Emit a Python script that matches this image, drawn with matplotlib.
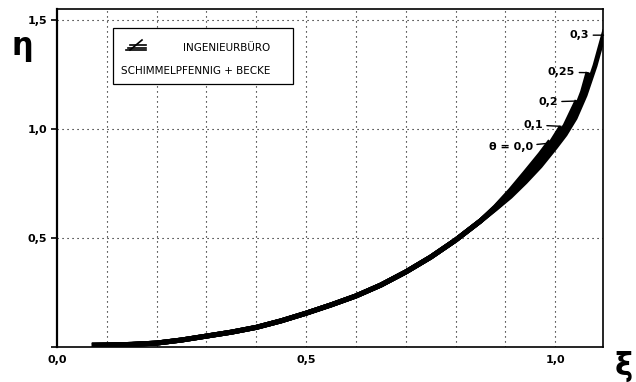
import matplotlib
matplotlib.use('Agg')
import matplotlib.pyplot as plt

# common lower part of all curves (the curves coincide here)
xi_base = [0.07, 0.10, 0.15, 0.20, 0.25, 0.30, 0.35, 0.40, 0.45, 0.50, 0.55,
           0.60, 0.65, 0.70, 0.75, 0.80, 0.85]
eta_base = [0.008, 0.009, 0.012, 0.018, 0.032, 0.05, 0.068, 0.09, 0.12, 0.155,
            0.193, 0.234, 0.284, 0.344, 0.412, 0.49, 0.578]

# upper parts, one per theta value
xi_00 = [0.88, 0.91, 0.94, 0.97, 0.99]
eta_00 = [0.643, 0.718, 0.80, 0.884, 0.945]

xi_01 = [0.88, 0.91, 0.94, 0.97, 0.99, 1.012]
eta_01 = [0.641, 0.712, 0.79, 0.872, 0.93, 1.01]

xi_02 = [0.88, 0.91, 0.94, 0.97, 1.00, 1.02, 1.044]
eta_02 = [0.638, 0.705, 0.782, 0.862, 0.948, 1.015, 1.13]

xi_025 = [0.88, 0.91, 0.94, 0.97, 1.00, 1.02, 1.04, 1.055, 1.066]
eta_025 = [0.635, 0.697, 0.77, 0.846, 0.93, 0.995, 1.08, 1.17, 1.26]

xi_03 = [0.88, 0.91, 0.94, 0.97, 1.00, 1.02, 1.04, 1.06, 1.08, 1.10]
eta_03 = [0.633, 0.69, 0.757, 0.83, 0.915, 0.975, 1.05, 1.155, 1.29, 1.455]

theta_labels = ['\u03b8 = 0,0', '0,1', '0,2', '0,25', '0,3']
upper = [(xi_00, eta_00), (xi_01, eta_01), (xi_02, eta_02),
         (xi_025, eta_025), (xi_03, eta_03)]

# label text anchor (right edge) and leader end
label_pos = [(0.955, 0.917), (0.975, 1.018), (1.005, 1.124), (1.04, 1.26), (1.068, 1.43)]
leader_end = [(0.99, 0.935), (1.012, 1.012), (1.044, 1.128), (1.066, 1.258), (1.097, 1.43)]

x_ticks = [0.0, 0.5, 1.0]
x_ticklabels = ['0,0', '0,5', '1,0']
y_ticks = [0.0, 0.5, 1.0, 1.5]
y_ticklabels = ['', '0,5', '1,0', '1,5']
x_grid = [0.1, 0.2, 0.3, 0.4, 0.5, 0.6, 0.7, 0.8, 0.9, 1.0]
y_grid = [0.5, 1.0, 1.5]

fig = plt.figure(figsize=(6.36, 3.82), dpi=100)
ax = fig.add_axes([57 / 636, 1 - 347 / 382, 546 / 636, 338 / 382])
ax.set_xlim(0, 1.096)
ax.set_ylim(0, 1.55)

dots = (0, (1, 3.5))
for gx in x_grid:
    ax.axvline(gx, color='black', lw=0.8, ls=dots, zorder=1)
for gy in y_grid:
    ax.axhline(gy, color='black', lw=0.8, ls=dots, zorder=1)

for xs, ys in upper:
    ax.plot(xi_base + xs, eta_base + ys, color='black', lw=3.6,
            solid_capstyle='butt', solid_joinstyle='round', zorder=3)

for lab, (tx, ty), (ex, ey) in zip(theta_labels, label_pos, leader_end):
    ax.annotate(lab, xy=(ex, ey), xytext=(tx, ty), ha='right', va='center',
                fontsize=8, fontweight='bold',
                arrowprops=dict(arrowstyle='-', color='black', lw=1.0,
                                shrinkA=1, shrinkB=0))

ax.set_xticks(x_ticks)
ax.set_xticklabels(x_ticklabels, fontsize=8, fontweight='bold')
ax.set_yticks(y_ticks)
ax.set_yticklabels(y_ticklabels, fontsize=8, fontweight='bold')
ax.tick_params(axis='x', length=0, pad=6)
ax.tick_params(axis='y', length=4, width=1.2, pad=3)
for s in ax.spines.values():
    s.set_linewidth(1.2)
ax.spines['left'].set_linewidth(1.6)

fig.text(22 / 636, 1 - 48 / 382, '\u03b7', fontsize=22, fontweight='bold',
         ha='center', va='center')
fig.text(624 / 636, 1 - 366 / 382, '\u03be', fontsize=22, fontweight='bold',
         ha='center', va='center')

# company box
box = plt.Rectangle((113 / 636, 1 - 84 / 382), 180 / 636, 56 / 382,
                    transform=fig.transFigure, fill=True, facecolor='white',
                    edgecolor='black', lw=0.9, zorder=5)
fig.add_artist(box)
fam = ['Liberation Sans Narrow', 'DejaVu Sans']
fig.text(270 / 636, 1 - 48 / 382, 'INGENIEURBÜRO', fontsize=7.5, family=fam,
         ha='right', va='center', zorder=6)
fig.text(196 / 636, 1 - 71 / 382, 'SCHIMMELPFENNIG + BECKE', fontsize=7.5,
         family=fam, ha='center', va='center', zorder=6)
# small logo
for i, dy in enumerate([0, 2.5, 5]):
    y = 1 - (50 - dy) / 382
    fig.add_artist(plt.Line2D([(126 + i * 2) / 636, 146 / 636], [y, y],
                              transform=fig.transFigure, color='black', lw=1.2, zorder=6))
fig.add_artist(plt.Line2D([130 / 636, 142 / 636], [1 - 50 / 382, 1 - 40 / 382],
                          transform=fig.transFigure, color='black', lw=1.2, zorder=6))

fig.savefig('out.png', dpi=100)
